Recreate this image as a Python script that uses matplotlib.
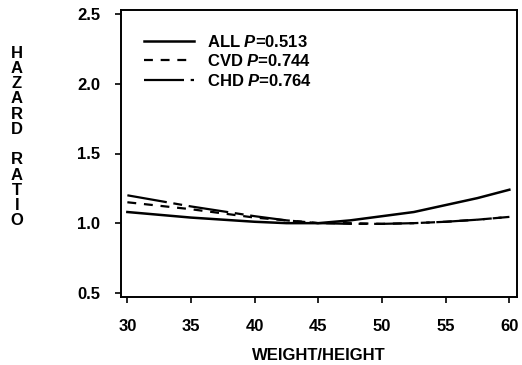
import matplotlib
matplotlib.use("Agg")
import matplotlib.pyplot as plt

plt.rcParams['font.family'] = ['Liberation Sans', 'DejaVu Sans']
plt.rcParams['font.weight'] = 'bold'
plt.rcParams['axes.labelweight'] = 'bold'
plt.rcParams['mathtext.fontset'] = 'custom'
plt.rcParams['mathtext.rm'] = 'Liberation Sans:bold'
plt.rcParams['mathtext.it'] = 'Liberation Sans:italic:bold'

# weight/height values where curves were read
wh = [30, 32.5, 35, 37.5, 40, 42.5, 45, 47.5, 50, 52.5, 55, 57.5, 60]
hr_all = [1.08, 1.06, 1.04, 1.025, 1.01, 1.0, 1.0, 1.02, 1.05, 1.08, 1.13, 1.18, 1.24]
hr_cvd = [1.15, 1.125, 1.10, 1.07, 1.04, 1.02, 1.0, 1.0, 0.995, 1.0, 1.01, 1.025, 1.045]
hr_chd = [1.20, 1.16, 1.12, 1.085, 1.05, 1.02, 1.0, 0.995, 0.995, 1.0, 1.01, 1.025, 1.045]

labels = ["ALL $P$=0.513", "CVD $P$=0.744", "CHD $P$=0.764"]
xticks = [30, 35, 40, 45, 50, 55, 60]
yticks = [0.5, 1.0, 1.5, 2.0, 2.5]

fig = plt.figure(figsize=(5.22, 3.65), dpi=100)
ax = fig.add_axes([121 / 522, 1 - 297 / 365, 396 / 522, 287 / 365])

ax.plot(wh, hr_all, color="black", lw=1.8, label=labels[0])
ax.plot(wh, hr_cvd, color="black", lw=1.6, dashes=(4, 3.5), label=labels[1])
ax.plot(wh, hr_chd, color="black", lw=1.6, dashes=(18, 3, 4, 3), label=labels[2])

ax.set_xlim(29.5, 60.6)
ax.set_ylim(0.47, 2.53)
ax.set_xticks(xticks)
ax.set_yticks(yticks)
ax.set_yticklabels([f"{v:.1f}" for v in yticks])
ax.tick_params(direction="out", length=4, width=1.2, labelsize=12)
ax.tick_params(axis="x", pad=12)
ax.tick_params(axis="y", pad=11)
for s in ax.spines.values():
    s.set_linewidth(1.4)

leg = ax.legend(loc="upper left", bbox_to_anchor=(0.04, 0.94), frameon=False,
                fontsize=12, handlelength=3.0, handletextpad=0.8,
                labelspacing=0.2, borderaxespad=0)

ax.set_xlabel("WEIGHT/HEIGHT", fontsize=12, labelpad=10)
fig.text(17 / 522, 1 - 137 / 365, "\n".join("HAZARD") + "\n\n" + "\n".join("RATIO"),
         ha="center", va="center", fontsize=12, linespacing=1.02)

fig.savefig("out.png", dpi=100)
